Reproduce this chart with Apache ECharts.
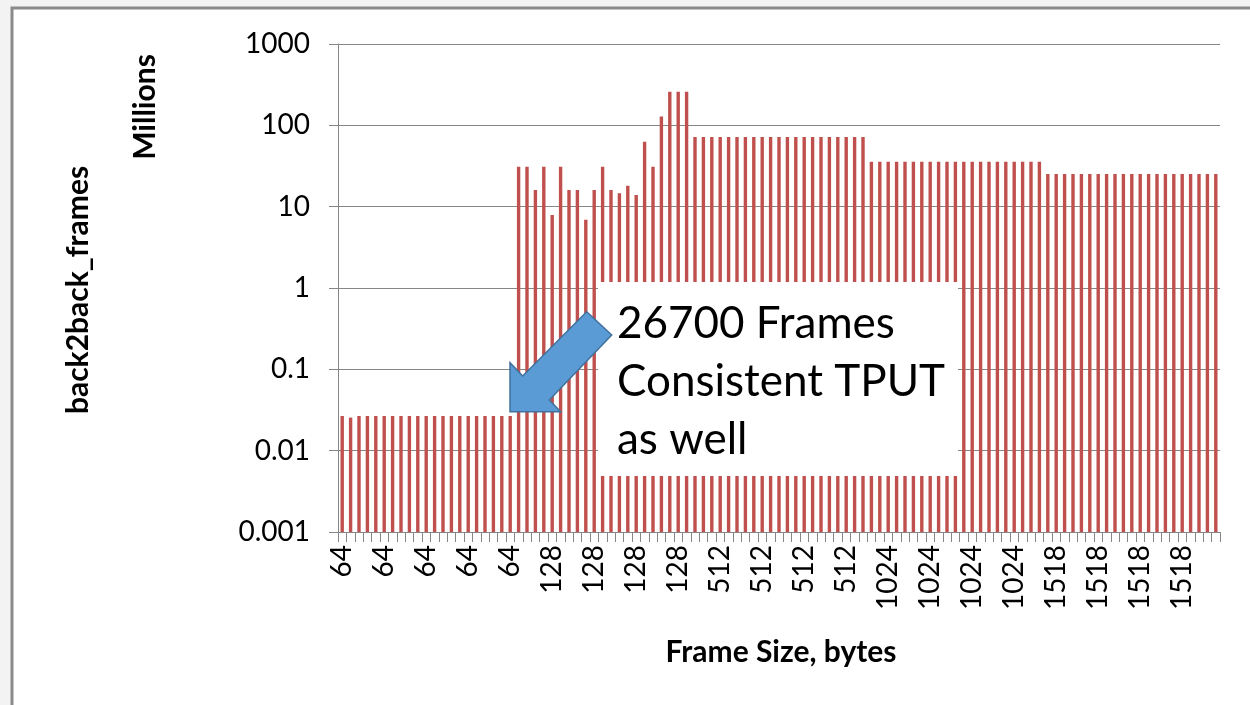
<!DOCTYPE html>
<html>
<head>
<meta charset="utf-8">
<script src="https://cdn.jsdelivr.net/npm/echarts@6/dist/echarts.min.js"></script>
<style>
  html, body { margin: 0; padding: 0; background: #f3f3f3; }
  #chart { width: 1250px; height: 705px; }
</style>
</head>
<body>
<div id="chart"></div>
<script>
// back2back_frames (millions) per trial, 21 trials per frame size
var frameSizes = [64, 128, 512, 1024, 1518];
var trialsPerSize = 21;

var fps64 = [0.0267, 0.0255, 0.0267, 0.0267, 0.0267, 0.0267, 0.0267, 0.0267, 0.0267, 0.0267, 0.0267,
             0.0267, 0.0267, 0.0267, 0.0267, 0.0267, 0.0267, 0.0267, 0.0267, 0.0267, 0.0267];
var fps128 = [31, 31, 16, 31, 7.9, 31, 16, 16, 6.9, 16, 31,
              16, 14.6, 18.1, 13.9, 63, 31, 128, 259, 259, 259];
var fps512 = [72, 72, 72, 72, 72, 72, 72, 72, 72, 72, 72,
              72, 72, 72, 72, 72, 72, 72, 72, 72, 72];
var fps1024 = [35.7, 35.7, 35.7, 35.7, 35.7, 35.7, 35.7, 35.7, 35.7, 35.7, 35.7,
               35.7, 35.7, 35.7, 35.7, 35.7, 35.7, 35.7, 35.7, 35.7, 35.7];
var fps1518 = [25.2, 25.2, 25.2, 25.2, 25.2, 25.2, 25.2, 25.2, 25.2, 25.2, 25.2,
               25.2, 25.2, 25.2, 25.2, 25.2, 25.2, 25.2, 25.2, 25.2, 25.2];

var yTickLabels = ["0.001", "0.01", "0.1", "1", "10", "100", "1000"];

var categories = [];
frameSizes.forEach(function (s) {
  for (var i = 0; i < trialsPerSize; i++) categories.push(String(s));
});
var values = [].concat(fps64, fps128, fps512, fps1024, fps1518);

var FONT = "Lato, 'Open Sans', sans-serif";
var AXIS = "#868686";

var chart = echarts.init(document.getElementById("chart"), null, { renderer: "canvas" });
chart.setOption({
  backgroundColor: "#f3f3f3",
  animation: false,
  grid: { left: 338, right: 30, top: 44, bottom: 173, containLabel: false },
  xAxis: {
    type: "category",
    data: categories,
    boundaryGap: true,
    axisLine: { lineStyle: { color: AXIS, width: 1 } },
    axisTick: { show: true, interval: 0, length: 10, lineStyle: { color: AXIS } },
    axisLabel: {
      interval: 4, rotate: 90, margin: 13,
      fontFamily: FONT, fontSize: 28, color: "#000"
    },
    splitLine: { show: false }
  },
  yAxis: {
    type: "log",
    logBase: 10,
    min: 0.001,
    max: 1000,
    startValue: 0.001,
    axisLine: { show: true, lineStyle: { color: AXIS, width: 1 } },
    axisTick: { show: true, length: 9, lineStyle: { color: AXIS } },
    minorTick: { show: false },
    axisLabel: {
      margin: 28, fontFamily: FONT, fontSize: 28, color: "#000",
      formatter: function (v) {
        var k = Math.round(Math.log(v) / Math.LN10) + 3;
        return yTickLabels[k] != null ? yTickLabels[k] : "";
      }
    },
    splitLine: { show: true, lineStyle: { color: AXIS, width: 1 } }
  },
  series: [{
    type: "bar",
    data: values,
    barWidth: 3.4,
    itemStyle: { color: "#c0504d" },
    silent: true
  }],
  graphic: [
    {
      type: "rect", z: -10, silent: true,
      shape: { x: 12, y: 8, width: 1320, height: 760 },
      style: { fill: "#fff", stroke: "#8a8a8a", lineWidth: 3 }
    },
    {
      type: "text", z: 10, x: 78, y: 290, rotation: Math.PI / 2,
      style: { text: "back2back_frames", font: "bold 30px " + FONT, fill: "#000",
        textAlign: "center", textVerticalAlign: "middle" }
    },
    {
      type: "text", z: 10, x: 145, y: 107, rotation: Math.PI / 2,
      style: { text: "Millions", font: "bold 30px " + FONT, fill: "#000",
        textAlign: "center", textVerticalAlign: "middle" }
    },
    {
      type: "text", z: 10, x: 781, y: 652,
      style: { text: "Frame Size, bytes", font: "bold 30px " + FONT, fill: "#000",
        textAlign: "center", textVerticalAlign: "middle" }
    },
    {
      type: "rect", z: 20, silent: true,
      shape: { x: 598, y: 282, width: 360, height: 194 },
      style: { fill: "#fff" }
    },
    {
      type: "text", z: 21, x: 617, y: 295,
      style: { text: "26700 Frames\nConsistent TPUT\nas well", font: "44px " + FONT,
        lineHeight: 58, fill: "#000", textAlign: "left", textVerticalAlign: "top" }
    },
    {
      type: "polygon", z: 22, silent: true,
      shape: { points: [[510, 411.7], [510, 362.7], [522.7, 376], [586.7, 311.7],
                        [611.7, 335], [549.3, 400], [560.7, 411.7]] },
      style: { fill: "#5b9bd5", stroke: "#41719c", lineWidth: 1.5 }
    }
  ]
});
window.addEventListener("resize", function () { chart.resize(); });
</script>
</body>
</html>
